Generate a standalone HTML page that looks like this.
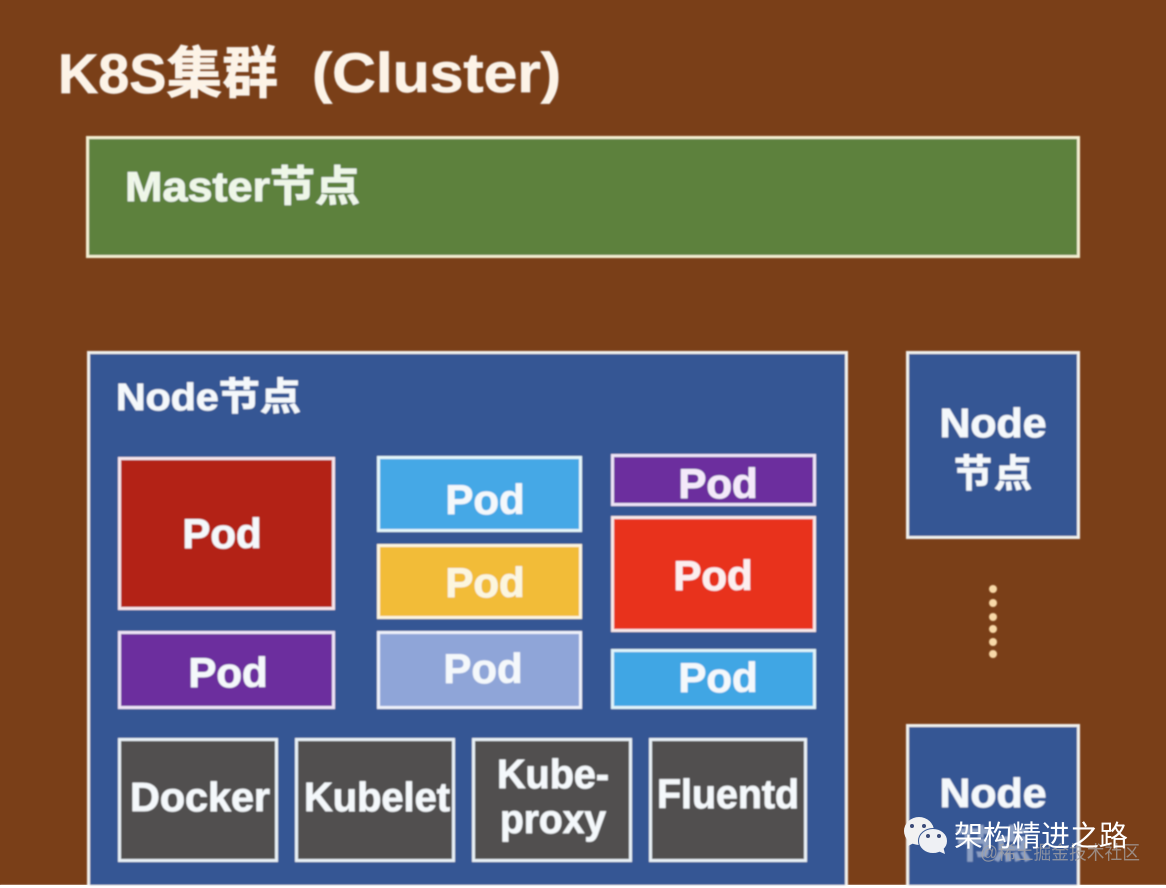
<!DOCTYPE html>
<html>
<head>
<meta charset="utf-8">
<style>
html,body{margin:0;padding:0;background:#fff;}
svg{display:block;}
text{font-family:"Liberation Sans","Noto Sans CJK SC",sans-serif;font-weight:700;fill:#f4f8fb;}
.m{text-anchor:middle;}
g.t text{stroke:#f4f8fb;stroke-width:.7px;}
</style>
</head>
<body>
<svg width="1166" height="888" viewBox="0 0 1166 888" xmlns="http://www.w3.org/2000/svg">
<defs><filter id="b" x="-2%" y="-2%" width="104%" height="104%"><feGaussianBlur stdDeviation="0.7"/></filter></defs>
<rect x="0" y="0" width="1166" height="888" fill="#fff"/>
<rect x="0" y="0" width="1166" height="885" fill="#7a3f18"/>
<g filter="url(#b)" class="t">
<text x="58" y="93" font-size="56" textLength="220" lengthAdjust="spacingAndGlyphs" style="fill:#fdf3e6">K8S集群</text>
<text x="312" y="92" font-size="56" textLength="249" lengthAdjust="spacingAndGlyphs" style="fill:#fdf3e6">(Cluster)</text>
<rect x="87.500" y="137.500" width="991" height="119" fill="#5d813e" stroke="#f3efd2" stroke-width="3"/>
<text x="125" y="201" font-size="42" textLength="235" lengthAdjust="spacingAndGlyphs" style="fill:#eef7e6">Master节点</text>

<rect x="88.500" y="352.500" width="758" height="540" fill="#365694" stroke="#f0f0ee" stroke-width="3"/>
<text x="116" y="410" font-size="38" textLength="185" lengthAdjust="spacingAndGlyphs">Node节点</text>

<rect x="119.500" y="458.500" width="214" height="150" fill="#b32113" stroke="#f6e6ec" stroke-width="3"/>
<text class="m" x="222" y="548" font-size="42">Pod</text>
<rect x="119.500" y="632.500" width="214" height="75" fill="#6c2f9e" stroke="#eee4f6" stroke-width="3"/>
<text class="m" x="228" y="687" font-size="42">Pod</text>

<rect x="378.500" y="457.500" width="202" height="73" fill="#45a8e6" stroke="#e4f6fa" stroke-width="3"/>
<text class="m" x="485" y="514" font-size="42">Pod</text>
<rect x="378.500" y="545.500" width="202" height="72" fill="#f2bc38" stroke="#fdf6e0" stroke-width="3"/>
<text class="m" x="485" y="597" font-size="42" style="fill:#fdf6dc">Pod</text>
<rect x="378.500" y="632.500" width="202" height="75" fill="#8fa5d8" stroke="#eef1fa" stroke-width="3"/>
<text class="m" x="483" y="683" font-size="42">Pod</text>

<rect x="612.500" y="455.500" width="202" height="49" fill="#6c2f9e" stroke="#eee4f6" stroke-width="3"/>
<text class="m" x="718" y="498" font-size="42" style="fill:#f4e8fa">Pod</text>
<rect x="612.500" y="517.500" width="202" height="113" fill="#e8301c" stroke="#f8e8e8" stroke-width="3"/>
<text class="m" x="713" y="590" font-size="42" style="fill:#fdeeee">Pod</text>
<rect x="612.500" y="650.500" width="202" height="57" fill="#3fa6e4" stroke="#e0f4fa" stroke-width="3"/>
<text class="m" x="718" y="692" font-size="42">Pod</text>

<rect x="119.500" y="739.500" width="157" height="121" fill="#514f4f" stroke="#e8f0f6" stroke-width="3"/>
<text class="m" x="200" y="811" font-size="41" textLength="140" lengthAdjust="spacingAndGlyphs">Docker</text>
<rect x="296.500" y="739.500" width="157" height="121" fill="#514f4f" stroke="#e8f0f6" stroke-width="3"/>
<text class="m" x="377" y="811" font-size="41" textLength="146" lengthAdjust="spacingAndGlyphs">Kubelet</text>
<rect x="473.500" y="739.500" width="157" height="121" fill="#514f4f" stroke="#e8f0f6" stroke-width="3"/>
<text class="m" x="553" y="788" font-size="41" textLength="112" lengthAdjust="spacingAndGlyphs">Kube-</text>
<text class="m" x="553" y="833" font-size="41" textLength="106" lengthAdjust="spacingAndGlyphs">proxy</text>
<rect x="650.500" y="739.500" width="155" height="121" fill="#514f4f" stroke="#e8f0f6" stroke-width="3"/>
<text class="m" x="728" y="808" font-size="41" textLength="142" lengthAdjust="spacingAndGlyphs">Fluentd</text>

<rect x="907.500" y="352.500" width="171" height="185" fill="#365694" stroke="#f0f0ee" stroke-width="3"/>
<text class="m" x="993" y="437" font-size="41" textLength="107" lengthAdjust="spacingAndGlyphs">Node</text>
<text class="m" x="993" y="487" font-size="38" textLength="78">节点</text>

<g fill="#f8d9a8">
<circle cx="993" cy="589" r="4"/><circle cx="993" cy="603" r="4"/><circle cx="993" cy="617" r="4"/>
<circle cx="993" cy="629" r="4"/><circle cx="993" cy="642" r="4"/><circle cx="993" cy="654" r="4"/>
</g>

<rect x="907.500" y="725.500" width="171" height="170" fill="#365694" stroke="#f0f0ee" stroke-width="3"/>
<rect x="0" y="885" width="1166" height="6" fill="#fff"/>
<text class="m" x="993" y="807" font-size="41" textLength="107" lengthAdjust="spacingAndGlyphs">Node</text>
<text class="m" x="993" y="858" font-size="38" opacity=".45">节点</text>
</g>
<text x="980" y="859" font-size="19" textLength="160" lengthAdjust="spacingAndGlyphs" style="fill:#a5a3a5;font-weight:400;opacity:.75">@稀土掘金技术社区</text>
<g>
<ellipse cx="919" cy="831" rx="15" ry="14" fill="#f2f2f2"/>
<path d="M908 840 L908 846 L916 842 Z" fill="#f2f2f2"/>
<circle cx="912" cy="826" r="2" fill="#3a4a78"/><circle cx="924" cy="826" r="2" fill="#3a4a78"/>
<ellipse cx="933" cy="841" rx="14.500" ry="12.500" fill="#eef0f4" stroke="#365694" stroke-width="1"/>
<path d="M938 851 L945 854 L943 846 Z" fill="#eef0f4"/>
<circle cx="928" cy="836" r="2" fill="#3a4a78"/><circle cx="939" cy="836" r="2" fill="#3a4a78"/>
</g>
<text x="954" y="846" font-size="29" textLength="174" style="fill:#fff;font-weight:400">架构精进之路</text>
</svg>
</body>
</html>
